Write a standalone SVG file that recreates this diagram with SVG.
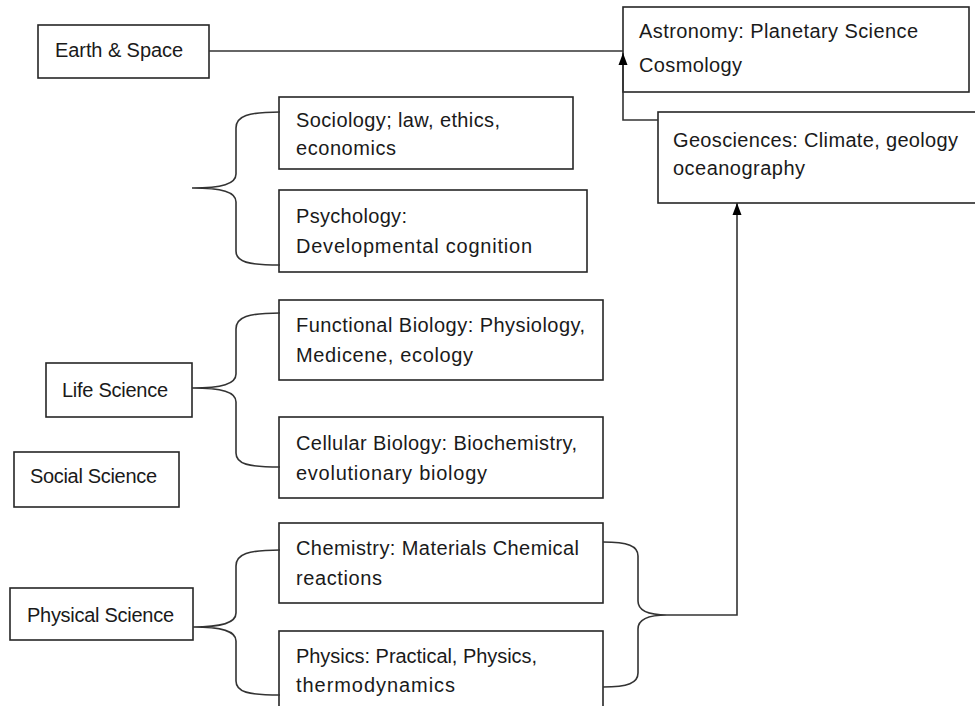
<svg xmlns="http://www.w3.org/2000/svg" width="975" height="706" viewBox="0 0 975 706">
<style>
.box{fill:#fff;stroke:#262626;stroke-width:1.6}
.t{font-family:"Liberation Sans",Arial,sans-serif;font-size:20px;fill:#1a1a1a}
.ln{fill:none;stroke:#333;stroke-width:1.6}
</style>
<defs>
<marker id="ah" viewBox="0 0 12 10" refX="12" refY="5" markerWidth="12" markerHeight="10" markerUnits="userSpaceOnUse" orient="auto">
<path d="M0,0.5 L12,5 L0,9.5 Z" fill="#000"/>
</marker>
</defs>
<rect width="975" height="706" fill="#fff"/>
<g id="earth-space">
<rect class="box" x="38" y="25" width="171" height="53"/>
<text class="t" x="55" y="57" textLength="128" lengthAdjust="spacing">Earth &amp; Space</text>
</g>
<g id="astronomy">
<rect class="box" x="623" y="7" width="346" height="85"/>
<text class="t" x="639" y="38" textLength="279" lengthAdjust="spacing">Astronomy: Planetary Science</text>
<text class="t" x="639" y="72" textLength="103" lengthAdjust="spacing">Cosmology</text>
</g>
<g id="geosciences">
<rect class="box" x="658" y="112" width="330" height="91"/>
<text class="t" x="673" y="147" textLength="285" lengthAdjust="spacing">Geosciences: Climate, geology</text>
<text class="t" x="673" y="175" textLength="132" lengthAdjust="spacing">oceanography</text>
</g>
<g id="sociology">
<rect class="box" x="279" y="97" width="294" height="72"/>
<text class="t" x="296" y="127" textLength="204" lengthAdjust="spacing">Sociology; law, ethics,</text>
<text class="t" x="296" y="155" textLength="100" lengthAdjust="spacing">economics</text>
</g>
<g id="psychology">
<rect class="box" x="279" y="190" width="308" height="82"/>
<text class="t" x="296" y="223" textLength="111" lengthAdjust="spacing">Psychology:</text>
<text class="t" x="296" y="253" textLength="236" lengthAdjust="spacing">Developmental cognition</text>
</g>
<g id="functional-biology">
<rect class="box" x="279" y="300" width="324" height="80"/>
<text class="t" x="296" y="332" textLength="289" lengthAdjust="spacing">Functional Biology: Physiology,</text>
<text class="t" x="296" y="362" textLength="177" lengthAdjust="spacing">Medicene, ecology</text>
</g>
<g id="cellular-biology">
<rect class="box" x="279" y="417" width="324" height="81"/>
<text class="t" x="296" y="450" textLength="281" lengthAdjust="spacing">Cellular Biology: Biochemistry,</text>
<text class="t" x="296" y="480" textLength="191" lengthAdjust="spacing">evolutionary biology</text>
</g>
<g id="chemistry">
<rect class="box" x="279" y="523" width="324" height="80"/>
<text class="t" x="296" y="555" textLength="283" lengthAdjust="spacing">Chemistry: Materials Chemical</text>
<text class="t" x="296" y="585" textLength="86" lengthAdjust="spacing">reactions</text>
</g>
<g id="physics">
<rect class="box" x="279" y="631" width="324" height="90"/>
<text class="t" x="296" y="663" textLength="241" lengthAdjust="spacing">Physics: Practical, Physics,</text>
<text class="t" x="296" y="692" textLength="159" lengthAdjust="spacing">thermodynamics</text>
</g>
<g id="life-science">
<rect class="box" x="46" y="363" width="146" height="54"/>
<text class="t" x="62" y="397" textLength="106" lengthAdjust="spacing">Life Science</text>
</g>
<g id="social-science">
<rect class="box" x="14" y="452" width="165" height="55"/>
<text class="t" x="30" y="483" textLength="127" lengthAdjust="spacing">Social Science</text>
</g>
<g id="physical-science">
<rect class="box" x="10" y="588" width="183" height="52"/>
<text class="t" x="27" y="622" textLength="147" lengthAdjust="spacing">Physical Science</text>
</g>
<g id="connectors">
<path class="ln" d="M209,51 L623,51"/>
<path class="ln" d="M658,120 L623,120 L623,53" marker-end="url(#ah)"/>
<path class="ln" d="M667,615 L737,615 L737,203" marker-end="url(#ah)"/>
<path class="ln" d="M280,112 C248,112 236,116 236,128 L236,174 C236,184 222,188 192,188 C222,188 236,192 236,202 L236,251 C236,262 248,265 280,265"/>
<path class="ln" d="M280,313 C248,313 236,317 236,329 L236,374 C236,384 222,388 192,388 C222,388 236,392 236,402 L236,453 C236,464 248,467 280,467"/>
<path class="ln" d="M280,550 C248,550 236,554 236,566 L236,613 C236,623 222,627 193,627 C222,627 236,631 236,641 L236,681 C236,692 248,695 280,695"/>
<path class="ln" d="M603,542 C628,542 638,546 638,556 L638,601 C638,611 648,615 667,615 C648,615 638,619 638,629 L638,673 C638,683 628,687 603,687"/>
</g>
</svg>
